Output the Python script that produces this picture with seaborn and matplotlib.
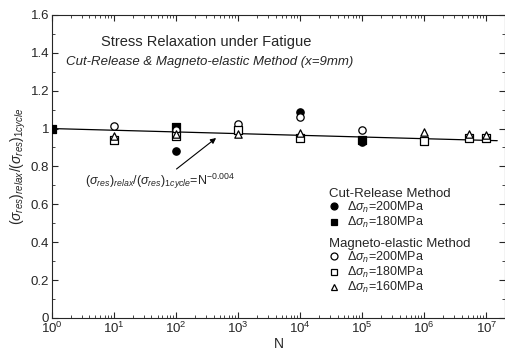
import numpy as np
import pandas as pd
import seaborn as sns
import matplotlib.pyplot as plt
from matplotlib.lines import Line2D
from matplotlib.ticker import LogLocator, NullFormatter, MultipleLocator

# data
cr200_n = [1e2, 1e4, 1e5]
cr200_v = [0.88, 1.085, 0.93]
cr180_n = [1, 1e2, 1e5]
cr180_v = [1.0, 1.01, 0.94]
me200_n = [1e1, 1e2, 1e3, 1e4, 1e5]
me200_v = [1.015, 0.99, 1.025, 1.06, 0.995]
me180_n = [1e1, 1e2, 1e3, 1e4, 1e6, 5.3e6, 1e7]
me180_v = [0.94, 0.96, 0.99, 0.95, 0.935, 0.95, 0.95]
me160_n = [1e1, 1e2, 1e3, 1e4, 1e6, 5.3e6, 1e7]
me160_v = [0.96, 0.97, 0.97, 0.975, 0.98, 0.97, 0.965]
fit_n = [1, 1.5e7]
fit_v = [1.0, 0.936]

sns.set_style("ticks")
plt.rcParams['font.family'] = ['Liberation Sans', 'DejaVu Sans']
plt.rcParams['mathtext.fontset'] = 'custom'
plt.rcParams['mathtext.rm'] = 'Liberation Sans'
plt.rcParams['mathtext.it'] = 'Liberation Sans:italic'

fig = plt.figure(figsize=(5.06, 3.56), dpi=100)
ax = fig.add_axes([0.103, 0.107, 0.895, 0.851])

sns.lineplot(x=fit_n, y=fit_v, ax=ax, color='black', lw=0.9)

series = [
    (cr200_n, cr200_v, 'o', 'black'),
    (cr180_n, cr180_v, 's', 'black'),
    (me200_n, me200_v, 'o', 'white'),
    (me180_n, me180_v, 's', 'white'),
    (me160_n, me160_v, '^', 'white'),
]
for n, v, m, fc in series:
    df = pd.DataFrame({'N': n, 'v': v})
    sns.scatterplot(data=df, x='N', y='v', ax=ax, marker=m, s=28,
                    facecolor=fc, edgecolor='black', linewidth=0.9, zorder=3)

ax.set_xscale('log')
ax.set_xlim(1, 2e7)
ax.set_ylim(0, 1.6)
ax.xaxis.set_major_locator(LogLocator(base=10, numticks=12))
ax.xaxis.set_minor_locator(LogLocator(base=10, subs=np.arange(2, 10), numticks=12))
ax.xaxis.set_minor_formatter(NullFormatter())
ax.yaxis.set_minor_locator(MultipleLocator(0.1))
ax.set_yticks([0, 0.2, 0.4, 0.6, 0.8, 1.0, 1.2, 1.4, 1.6])
ax.set_yticklabels(['0', '0.2', '0.4', '0.6', '0.8', '1', '1.2', '1.4', '1.6'])
ax.tick_params(which='both', direction='in', top=True, right=True, labelsize=9.5, pad=2)
ax.tick_params(which='major', length=4)
ax.tick_params(which='minor', length=2)
for s in ax.spines.values():
    s.set_linewidth(0.8)

ax.set_xlabel('N', fontsize=10, labelpad=1)
ax.set_ylabel(r'$(\sigma_{res})_{relax}/(\sigma_{res})_{1cycle}$', fontsize=10, labelpad=2)

ax.text(3.0e2, 1.455, 'Stress Relaxation under Fatigue', fontsize=10.5,
        ha='center', va='center')
ax.text(3.4e2, 1.35, 'Cut-Release & Magneto-elastic Method (x=9mm)', fontsize=9.5,
        ha='center', va='center', style='italic')

ax.annotate(r'$(\sigma_{res})_{relax}/(\sigma_{res})_{1cycle}$=N$^{-0.004}$',
            xy=(4.4e2, 0.95), xytext=(55, 0.70), fontsize=9, ha='center',
            arrowprops=dict(arrowstyle='-|>', color='black', lw=0.8,
                            shrinkA=0, shrinkB=0, mutation_scale=8))

def h(m, fc):
    return Line2D([], [], ls='', marker=m, markersize=5, markerfacecolor=fc,
                  markeredgecolor='black', markeredgewidth=0.9)

lab = [r'$\Delta\sigma_n$=200MPa', r'$\Delta\sigma_n$=180MPa', r'$\Delta\sigma_n$=160MPa']
leg1 = ax.legend([h('o', 'black'), h('s', 'black')], lab[:2],
                 title='Cut-Release Method', loc='upper left',
                 bbox_to_anchor=(0.598, 0.45), frameon=False, fontsize=9,
                 title_fontsize=9.5, alignment='left', handlelength=0.8,
                 handletextpad=0.6, labelspacing=0.0, borderpad=0)
ax.add_artist(leg1)
ax.legend([h('o', 'white'), h('s', 'white'), h('^', 'white')], lab,
          title='Magneto-elastic Method', loc='upper left',
          bbox_to_anchor=(0.598, 0.285), frameon=False, fontsize=9,
          title_fontsize=9.5, alignment='left', handlelength=0.8,
          handletextpad=0.6, labelspacing=0.0, borderpad=0)

fig.savefig('out.png', dpi=100)
